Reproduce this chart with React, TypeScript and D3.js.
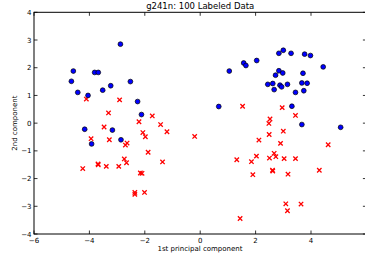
import React, { useEffect, useRef } from "react";
import * as d3 from "d3";

const width = 365;
const height = 256;

// class 1 (blue circles)
const blueX = [-4.65, -4.58, -4.42, -4.05, -3.81, -3.68, -3.52, -3.23, -2.88, -2.52, -2.26, -2.12, -4.17, -3.92, -3.17, -2.86, 0.67, 1.05, 1.57, 1.65, 2.04, 2.44, 2.62, 2.67, 2.72, 2.84, 2.84, 2.88, 2.94, 2.98, 3.0, 3.15, 3.28, 3.31, 3.44, 3.67, 3.71, 3.74, 3.77, 3.86, 3.98, 3.67, 4.44, 5.07];
const blueY = [1.51, 1.88, 1.11, 1.0, 1.83, 1.83, 1.19, 1.35, 2.85, 1.5, 0.78, 0.31, -0.22, -0.75, -0.25, -0.6, 0.6, 1.88, 2.17, 2.08, 2.26, 1.4, 1.43, 1.21, 1.73, 2.52, 1.89, 1.37, 1.31, 1.81, 2.63, 1.4, 2.52, 0.61, 1.11, 1.45, 1.8, 1.17, 2.49, 1.44, 2.44, -0.05, 2.03, -0.15];

// class 2 (red crosses)
const redX = [-4.11, -2.91, -3.31, -3.47, -3.94, -3.28, -4.24, -3.69, -3.68, -3.39, -2.94, -2.74, -2.7, -2.64, -2.66, -2.21, -2.07, -1.98, -1.73, -1.43, -1.2, -1.88, -1.36, -2.16, -2.1, -2.36, -2.36, -2.01, -0.2, 1.53, 1.32, 1.85, 1.9, 2.03, 2.12, 2.48, 2.52, 2.49, 2.5, 2.61, 2.62, 2.67, 2.73, 2.9, 2.96, 3.0, 3.03, 3.17, 3.09, 3.15, 3.44, 3.44, 3.64, 1.44, 4.3, 4.62];
const redY = [0.87, 0.84, 0.37, -0.14, -0.56, -0.6, -1.64, -1.47, -1.5, -1.56, -1.56, -1.29, -0.79, -0.72, -1.43, 0.05, -0.34, -0.49, 0.26, -0.05, -0.31, -1.05, -1.4, -1.8, -1.81, -2.5, -2.57, -2.5, -0.48, 0.61, -1.32, -1.39, -1.86, -1.19, -0.61, -0.01, 0.15, -0.41, -1.26, -1.7, -1.73, -1.09, -1.21, -0.73, 0.56, -0.29, -1.28, -1.84, -2.91, -3.16, 0.28, -1.28, -2.92, -3.44, -1.7, -0.78];

const xTicks = [-6, -4, -2, 0, 2, 4, 6];
const xTickLabels = ["\u22126", "\u22124", "\u22122", "0", "2", "4", ""];
const yTicks = [-4, -3, -2, -1, 0, 1, 2, 3, 4];

const titleText = "g241n: 100 Labeled Data";
const xLabel = "1st principal component";
const yLabel = "2nd component";

const fmt = (v: number) => (v < 0 ? "\u2212" + Math.abs(v) : String(v));

const App = () => {
  const svgRef = useRef<SVGSVGElement>(null);

  useEffect(() => {
    const svg = d3.select(svgRef.current);
    svg.selectAll("*").remove();
    const font = "DejaVu Sans, sans-serif";

    const xScale = d3.scaleLinear().domain([-6, 6]).range([34, 366.4]);
    const yScale = d3.scaleLinear().domain([-4, 4]).range([234, 12.3]);
    const [x0, x1] = xScale.range();
    const [y0, y1] = yScale.range();

    svg.append("rect").attr("width", width).attr("height", height).attr("fill", "#fff");

    // ticks on all four sides, pointing inward
    const ticks = svg.append("g").attr("stroke", "#000").attr("stroke-width", 0.8);
    xTicks.forEach((t) => {
      const x = xScale(t);
      ticks.append("line").attr("x1", x).attr("x2", x).attr("y1", y0).attr("y2", y0 - 3.5);
      ticks.append("line").attr("x1", x).attr("x2", x).attr("y1", y1).attr("y2", y1 + 3.5);
    });
    yTicks.forEach((t) => {
      const y = yScale(t);
      ticks.append("line").attr("x1", x0).attr("x2", x0 + 3.5).attr("y1", y).attr("y2", y);
      ticks.append("line").attr("x1", x1).attr("x2", x1 - 3.5).attr("y1", y).attr("y2", y);
    });

    svg
      .selectAll(".xt")
      .data(xTicks.filter((_, i) => xTickLabels[i] !== ""))
      .enter()
      .append("text")
      .attr("x", (d) => xScale(d))
      .attr("y", y0 + 8.5)
      .attr("text-anchor", "middle")
      .attr("font-family", font)
      .attr("font-size", 7)
      .attr("fill", "#000")
      .text((d, i) => xTickLabels[i]);

    svg
      .selectAll(".yt")
      .data(yTicks)
      .enter()
      .append("text")
      .attr("x", x0 - 2.5)
      .attr("y", (d) => yScale(d) + 2.5)
      .attr("text-anchor", "end")
      .attr("font-family", font)
      .attr("font-size", 7)
      .attr("fill", "#000")
      .text((d) => fmt(d));

    // red crosses
    const r = 2.2;
    const crosses = svg.append("g").attr("stroke", "#ff0000").attr("stroke-width", 1.3);
    redX.forEach((v, i) => {
      const cx = xScale(v);
      const cy = yScale(redY[i]);
      crosses
        .append("path")
        .attr("d", `M${cx - r},${cy - r}L${cx + r},${cy + r}M${cx - r},${cy + r}L${cx + r},${cy - r}`);
    });

    // blue circles
    svg
      .append("g")
      .selectAll("circle")
      .data(blueX.map((v, i) => [v, blueY[i]]))
      .enter()
      .append("circle")
      .attr("cx", (d) => xScale(d[0]))
      .attr("cy", (d) => yScale(d[1]))
      .attr("r", 2.4)
      .attr("fill", "#0000ff")
      .attr("stroke", "#000")
      .attr("stroke-width", 0.7);

    // frame
    svg
      .append("rect")
      .attr("x", x0)
      .attr("y", y1)
      .attr("width", x1 - x0)
      .attr("height", y0 - y1)
      .attr("fill", "none")
      .attr("stroke", "#000")
      .attr("stroke-width", 1);

    svg
      .append("text")
      .attr("x", (x0 + x1) / 2)
      .attr("y", 9)
      .attr("text-anchor", "middle")
      .attr("font-family", font)
      .attr("font-size", 8.5)
      .attr("fill", "#000")
      .text(titleText);

    svg
      .append("text")
      .attr("x", 200)
      .attr("y", 251)
      .attr("text-anchor", "middle")
      .attr("font-family", font)
      .attr("font-size", 7)
      .attr("fill", "#000")
      .text(xLabel);

    svg
      .append("text")
      .attr("transform", `translate(17,${(y0 + y1) / 2}) rotate(-90)`)
      .attr("text-anchor", "middle")
      .attr("font-family", font)
      .attr("font-size", 7)
      .attr("fill", "#000")
      .text(yLabel);
  }, []);

  return (
    <div style={{ position: "absolute", left: 0, top: 0 }}>
      <svg ref={svgRef} width={width} height={height} style={{ display: "block" }}></svg>
    </div>
  );
};

export default App;
